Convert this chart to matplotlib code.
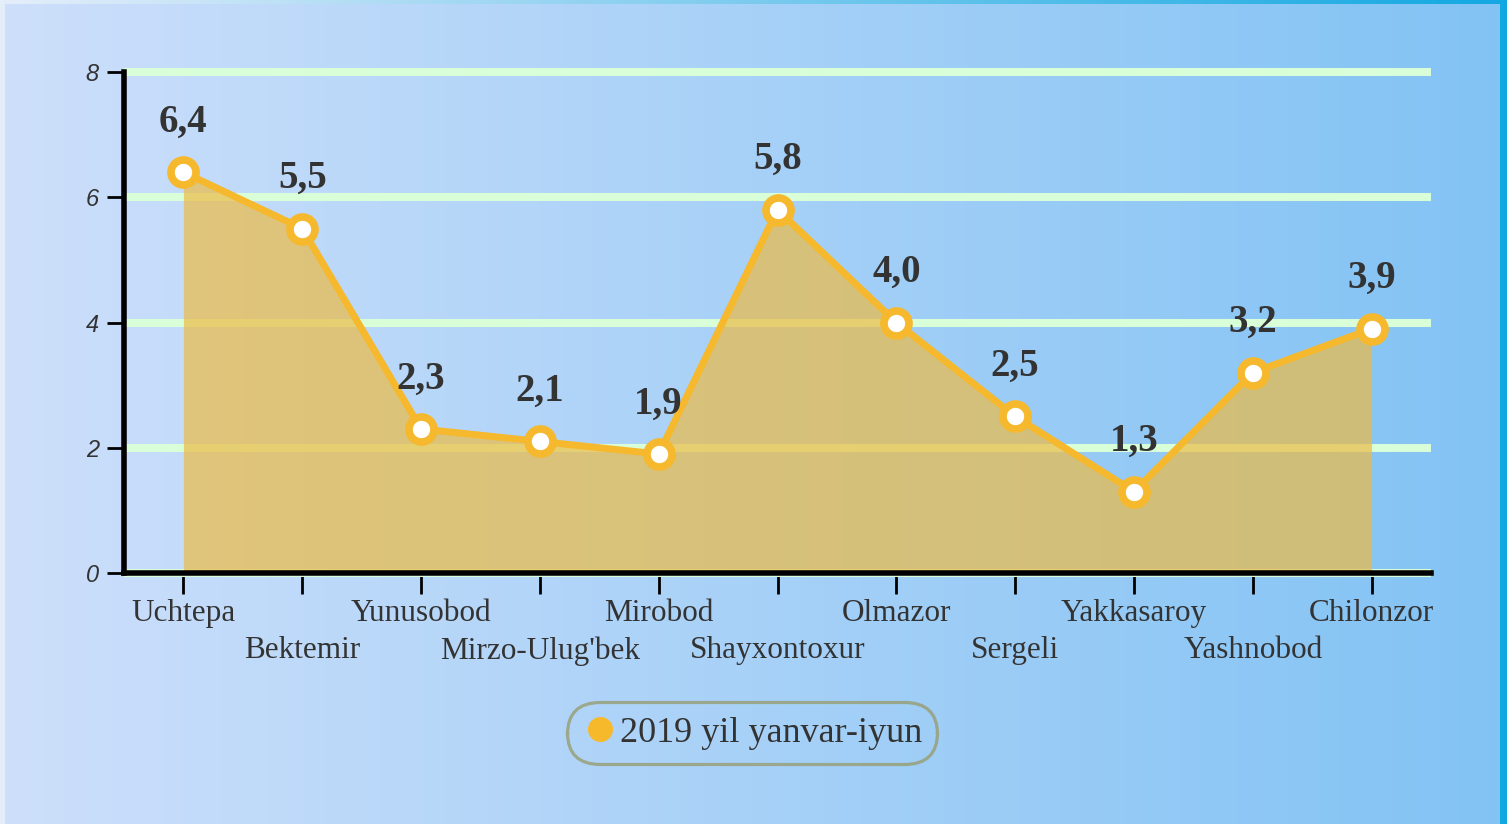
import numpy as np
import matplotlib.pyplot as plt
from matplotlib.colors import to_rgb
from matplotlib.lines import Line2D

# data
districts = ["Uchtepa", "Bektemir", "Yunusobod", "Mirzo-Ulug'bek", "Mirobod",
             "Shayxontoxur", "Olmazor", "Sergeli", "Yakkasaroy", "Yashnobod",
             "Chilonzor"]
values = [6.4, 5.5, 2.3, 2.1, 1.9, 5.8, 4.0, 2.5, 1.3, 3.2, 3.9]
series_name = "2019 yil yanvar-iyun"
yticks = [0, 2, 4, 6, 8]

ORANGE = "#f6b82c"
FILL = "#ecbb45"
GRID = "#d9ffd9"
TEXT = "#333333"
SERIF = "Liberation Serif"


def hgrad(c1, c2, w=400, h=4):
    a, b = np.array(to_rgb(c1)), np.array(to_rgb(c2))
    t = np.linspace(0, 1, w)[None, :, None]
    return np.repeat(a + (b - a) * t, h, axis=0)


fig = plt.figure(figsize=(15.07, 8.24), dpi=100)

# outer frame + inner panel background
frame = fig.add_axes([0, 0, 1, 1], zorder=-2)
frame.imshow(hgrad("#e4eefa", "#12a8e2"), aspect="auto", extent=[0, 1, 0, 1])
frame.set_axis_off()
panel = fig.add_axes([5 / 1507, 0, 1495 / 1507, 1 - 4 / 824], zorder=-1)
panel.imshow(hgrad("#cddffb", "#82c3f4"), aspect="auto", extent=[0, 1, 0, 1])
panel.set_axis_off()

ax = fig.add_axes([124 / 1507, 1 - 573 / 824, 1307 / 1507, 501 / 824])
ax.patch.set_alpha(0)
x = np.arange(len(districts))

ax.fill_between(x, 0, values, color=FILL, alpha=0.7, lw=0, zorder=2)
ax.plot(x, values, color=ORANGE, lw=5, zorder=3)
ax.plot(x, values, ls="none", marker="o", ms=18, mew=5.5,
        mfc="white", mec=ORANGE, zorder=4, clip_on=False)

for xi, v in zip(x, values):
    ax.annotate(f"{v:.1f}".replace(".", ","), (xi, v), xytext=(0, 36),
                textcoords="offset points", ha="center", va="center",
                fontsize=28, fontweight="bold", family=SERIF, color=TEXT)

ax.set_xlim(-0.5, 10.5)
ax.set_ylim(0, 8)
ax.set_yticks(yticks)
ax.set_yticklabels([str(t) for t in yticks], fontsize=17, style="italic",
                   family="Liberation Sans", color=TEXT)
ax.tick_params(axis="y", length=12, width=2, pad=6, color="black")

ax.set_xticks(x)
ax.set_xticklabels([])
ax.tick_params(axis="x", length=15, width=2, color="black")
for i, name in enumerate(districts):
    ax.annotate(name, (i, 0), xytext=(0, -29 - 27 * (i % 2)),
                textcoords="offset points", ha="center", va="center",
                fontsize=22.5, family=SERIF, color=TEXT,
                xycoords=ax.get_xaxis_transform(), annotation_clip=False)

ax.yaxis.grid(True, color=GRID, lw=5.8, zorder=1, solid_capstyle="butt")
ax.set_axisbelow(True)
for gl in ax.get_ygridlines():
    gl.set_clip_on(False)

for s in ["top", "right"]:
    ax.spines[s].set_visible(False)
ax.spines["left"].set_linewidth(4)
ax.spines["bottom"].set_linewidth(4)
ax.spines["left"].set_zorder(5)
ax.spines["bottom"].set_zorder(5)

handle = Line2D([], [], ls="none", marker="o", ms=17, color="#f7b92c")
leg = ax.legend([handle], [series_name], loc="center",
                bbox_to_anchor=(752 / 1507, 1 - 733 / 824),
                bbox_transform=fig.transFigure, frameon=True,
                prop={"family": SERIF, "size": 26},
                handletextpad=0.05, handlelength=1.0, borderpad=0.4,
                borderaxespad=0)
for t in leg.get_texts():
    t.set_color(TEXT)
fr = leg.get_frame()
fr.set_facecolor("none")
fr.set_edgecolor("#979d71")
fr.set_linewidth(2.3)
fr.set_boxstyle("round,pad=0,rounding_size=0.9")

fig.savefig("out.png", dpi=100)
